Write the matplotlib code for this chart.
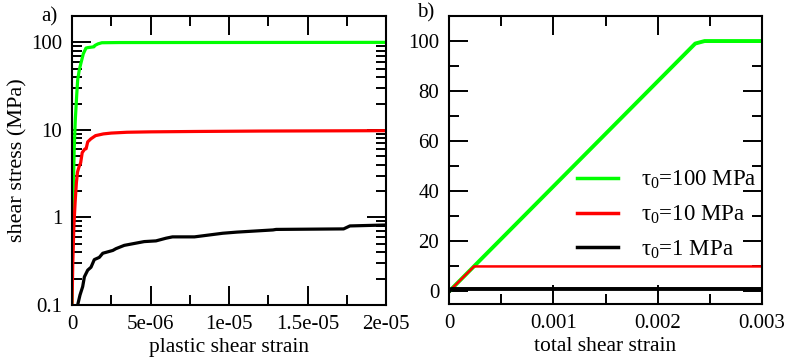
import matplotlib
matplotlib.use("Agg")
import matplotlib.pyplot as plt
from matplotlib.ticker import MultipleLocator, FixedLocator, FixedFormatter, LogLocator, NullFormatter

plt.rcParams['font.family'] = ['Liberation Serif', 'DejaVu Serif']
plt.rcParams['mathtext.fontset'] = 'custom'
plt.rcParams['mathtext.rm'] = 'Liberation Serif'
plt.rcParams['mathtext.it'] = 'Liberation Serif'
plt.rcParams['font.size'] = 15

# ---- panel a): stress vs plastic strain (log y) ----
green_a_x = [0, 0.03e-6, 0.08e-6, 0.14e-6, 0.21e-6, 0.30e-6, 0.36e-6, 0.46e-6, 0.57e-6,
             0.72e-6, 0.89e-6, 1.0e-6, 1.4e-6, 1.45e-6, 1.65e-6, 1.9e-6, 3e-6, 20e-6]
green_a_y = [0.1, 0.5, 2, 6, 13, 25, 37, 48, 58, 74, 86, 87, 89, 92, 96, 99, 99.5, 100]

red_a_x = [0, 0.05e-6, 0.12e-6, 0.2e-6, 0.28e-6, 0.35e-6, 0.45e-6, 0.55e-6, 0.65e-6,
           0.8e-6, 0.9e-6, 1.0e-6, 1.2e-6, 1.5e-6, 2e-6, 2.5e-6, 3.5e-6, 5e-6, 8e-6,
           12e-6, 16e-6, 20e-6]
red_a_y = [0.1, 0.3, 0.8, 1.5, 2.5, 3.3, 3.8, 4.2, 5.5, 6.0, 6.1, 7.3, 7.9, 8.6, 9.0,
           9.2, 9.4, 9.5, 9.6, 9.7, 9.75, 9.8]

black_a_x = [0.36e-6, 0.51e-6, 0.68e-6, 0.79e-6, 1.0e-6, 1.21e-6, 1.42e-6, 1.74e-6, 1.96e-6,
             2.6e-6, 2.8e-6, 3.33e-6, 4.6e-6, 5.35e-6, 6.0e-6, 6.4e-6, 7.8e-6, 9.6e-6,
             10.5e-6, 12.8e-6, 13.0e-6, 17.3e-6, 17.7e-6, 20e-6]
black_a_y = [0.1, 0.13, 0.162, 0.21, 0.25, 0.27, 0.33, 0.35, 0.39, 0.42, 0.44, 0.48, 0.53,
             0.54, 0.58, 0.60, 0.60, 0.66, 0.68, 0.72, 0.73, 0.74, 0.80, 0.82]

# ---- panel b): stress vs total strain ----
green_b_x = [0, 0.00236, 0.00245, 0.003]
green_b_y = [0, 99, 100, 100]
red_b_x = [0, 0.00024, 0.003]
red_b_y = [0, 10, 10]
black_b_x = [0, 0.000024, 0.003]
black_b_y = [0, 1, 1]

legend_labels = [r'$\mathrm{\tau_0}$=100 MPa', r'$\mathrm{\tau_0}$=10 MPa', r'$\mathrm{\tau_0}$=1 MPa']

GREEN = '#00ff00'
RED = '#ff0000'
BLACK = '#000000'

fig = plt.figure(figsize=(7.89, 3.62), dpi=100)
ax1 = fig.add_axes([72 / 789, 57 / 362, 314 / 789, 289 / 362])
ax2 = fig.add_axes([449 / 789, 58 / 362, 313 / 789, 288 / 362])


def style_axes(ax):
    for s in ax.spines.values():
        s.set_linewidth(1.5)
    ax.tick_params(which='both', direction='in', top=True, right=True, width=1.4)
    ax.tick_params(which='major', length=13.5, pad=7)
    ax.tick_params(which='minor', length=7)


# panel a
ax1.plot(green_a_x, green_a_y, color=GREEN, lw=2.3)
ax1.plot(red_a_x, red_a_y, color=RED, lw=2.3)
ax1.plot(black_a_x, black_a_y, color=BLACK, lw=2.3)
ax1.set_yscale('log')
ax1.set_xlim(0, 2e-5)
ax1.set_ylim(0.1, 200)
ax1.yaxis.set_major_locator(FixedLocator([0.1, 1, 10, 100]))
ax1.yaxis.set_major_formatter(FixedFormatter(['0.1', '1', '10', '100']))
ax1.yaxis.set_minor_locator(LogLocator(base=10, subs=range(2, 10)))
ax1.yaxis.set_minor_formatter(NullFormatter())
ax1.xaxis.set_major_locator(FixedLocator([0, 5e-6, 1e-5, 1.5e-5, 2e-5]))
ax1.xaxis.set_major_formatter(FixedFormatter(['0', '5e-06', '1e-05', '1.5e-05', '2e-05']))
ax1.xaxis.set_minor_locator(MultipleLocator(2.5e-6))
style_axes(ax1)
ax1.set_xlabel('plastic shear strain', labelpad=3, fontsize=15.5)
ax1.set_ylabel('shear stress (MPa)', labelpad=3, fontsize=16)
fig.text(41 / 789, 1 - 17 / 362, 'a)', ha='left', va='center', fontsize=15)

# panel b
ax2.plot(green_b_x, green_b_y, color=GREEN, lw=2.8, label=legend_labels[0])
ax2.plot(red_b_x, red_b_y, color=RED, lw=1.8, label=legend_labels[1])
ax2.plot(black_b_x, black_b_y, color=BLACK, lw=2.8, label=legend_labels[2])
ax2.set_xlim(0, 0.003)
ax2.set_ylim(-5, 110)
ax2.xaxis.set_major_locator(FixedLocator([0, 0.001, 0.002, 0.003]))
ax2.xaxis.set_major_formatter(FixedFormatter(['0', '0.001', '0.002', '0.003']))
ax2.xaxis.set_minor_locator(MultipleLocator(0.0005))
ax2.yaxis.set_major_locator(MultipleLocator(20))
ax2.yaxis.set_minor_locator(MultipleLocator(10))
ax2.set_yticks([0, 20, 40, 60, 80, 100])
style_axes(ax2)
ax2.set_xlabel('total shear strain', labelpad=3, fontsize=15.5)
fig.text(417 / 789, 1 - 13 / 362, 'b)', ha='left', va='center', fontsize=15)

leg = ax2.legend(loc='center left', bbox_to_anchor=(0.409, 0.31), frameon=False,
                 handlelength=1.8, handletextpad=1.0, labelspacing=0.55,
                 borderpad=0, borderaxespad=0, fontsize=16.5)
for h in leg.get_lines():
    h.set_linewidth(2.5)

fig.savefig('out.png', dpi=100)
